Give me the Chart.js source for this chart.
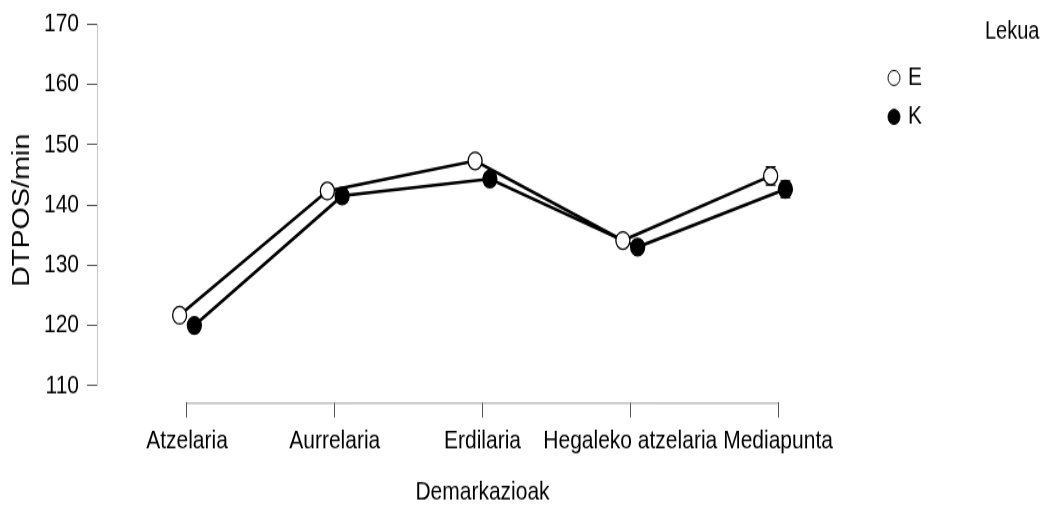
<!DOCTYPE html>
<html>
<head>
<meta charset="utf-8">
<script src="https://cdn.jsdelivr.net/npm/chart.js@4/dist/chart.umd.min.js"></script>
<style>
  html { overflow: hidden; background: #fff; }
  body { margin: 0; padding: 0; background: #fff; }
  #frame { width: 1040px; height: 507px; }
  /* the figure is drawn slightly compressed and stretched back to full height */
  #wrap { width: 1040px; height: 406px; transform: scaleY(1.2488); transform-origin: 0 0; }
  canvas { display: block; }
</style>
</head>
<body>
<div id="frame"><div id="wrap"><canvas id="c" width="1040" height="406"></canvas></div></div>
<script>
// Positions on the pitch
const categories = ['Atzelaria', 'Aurrelaria', 'Erdilaria', 'Hegaleko atzelaria', 'Mediapunta'];
// Group means (DTPOS/min) per location
const seriesE = [121.7, 142.3, 147.3, 134.1, 144.8];
const seriesK = [120.0, 141.5, 144.3, 133.0, 142.6];
// Standard errors
const errE = [0.7, 1.1, 0.8, 0.8, 1.5];
const errK = [0.7, 1.1, 0.8, 0.7, 1.4];
const seriesLabels = ['E', 'K'];
const yTicks = [110, 120, 130, 140, 150, 160, 170];
const yTitle = 'DTPOS/min';
const xTitle = 'Demarkazioak';
const legendTitle = 'Lekua';

const FONT = "'Liberation Sans', Arial, sans-serif";
const dodge = 0.05;

const toPoints = (vals, shift) => vals.map((v, i) => ({ x: i + 1 + shift, y: v }));
const errors = [errE, errK];

// Error bars behind the markers
const errorBars = {
  id: 'errorBars',
  beforeDatasetsDraw(chart) {
    const { ctx, scales: { x, y } } = chart;
    ctx.save();
    ctx.strokeStyle = '#000';
    ctx.lineWidth = 1.2;
    chart.data.datasets.forEach((ds, di) => {
      ds.data.forEach((p, i) => {
        const e = errors[di][i];
        const px = x.getPixelForValue(p.x);
        const y1 = y.getPixelForValue(p.y + e);
        const y2 = y.getPixelForValue(p.y - e);
        ctx.beginPath();
        ctx.moveTo(px, y1); ctx.lineTo(px, y2);
        ctx.moveTo(px - 5, y1); ctx.lineTo(px + 5, y1);
        ctx.moveTo(px - 5, y2); ctx.lineTo(px + 5, y2);
        ctx.stroke();
      });
    });
    ctx.restore();
  }
};

// Axis lines spanning only the tick range, plus the legend
const axesAndLegend = {
  id: 'axesAndLegend',
  afterDraw(chart) {
    const { ctx, scales: { x, y }, chartArea } = chart;
    ctx.save();
    ctx.lineWidth = 1;
    ctx.strokeStyle = '#c8c8c8';
    ctx.beginPath();
    ctx.moveTo(chartArea.left + 0.5, y.getPixelForValue(yTicks[0]));
    ctx.lineTo(chartArea.left + 0.5, y.getPixelForValue(yTicks[yTicks.length - 1]));
    ctx.stroke();
    ctx.strokeStyle = '#9a9a9a';
    ctx.beginPath();
    ctx.moveTo(x.getPixelForValue(1), chartArea.bottom + 0.5);
    ctx.lineTo(x.getPixelForValue(categories.length), chartArea.bottom + 0.5);
    ctx.stroke();

    // legend
    ctx.fillStyle = '#000';
    ctx.textBaseline = 'middle';
    ctx.textAlign = 'left';
    ctx.font = '20px ' + FONT;
    ctx.fillText(legendTitle, 985, 25.6);
    ctx.font = '21px ' + FONT;
    chart.data.datasets.forEach((ds, i) => {
      const cy = 62.4 + i * 31.2;
      ctx.beginPath();
      ctx.arc(894, cy, 6, 0, Math.PI * 2);
      ctx.fillStyle = ds.pointBackgroundColor;
      ctx.fill();
      ctx.strokeStyle = '#000';
      ctx.lineWidth = 1;
      ctx.stroke();
      ctx.fillStyle = '#000';
      ctx.fillText(ds.label, 908, cy);
    });
    ctx.restore();
  }
};

new Chart(document.getElementById('c'), {
  type: 'line',
  data: {
    datasets: [
      {
        label: seriesLabels[0],
        data: toPoints(seriesE, -dodge),
        borderColor: '#000', borderWidth: 2.6,
        pointRadius: 7, pointBorderWidth: 1.3,
        pointBackgroundColor: '#fff', pointBorderColor: '#000',
        clip: false
      },
      {
        label: seriesLabels[1],
        data: toPoints(seriesK, dodge),
        borderColor: '#000', borderWidth: 2.6,
        pointRadius: 7, pointBorderWidth: 1.3,
        pointBackgroundColor: '#000', pointBorderColor: '#000',
        clip: false
      }
    ]
  },
  options: {
    responsive: false,
    animation: false,
    layout: { padding: { top: 14.4, right: 172, left: 0, bottom: 0 } },
    plugins: { legend: { display: false }, tooltip: { enabled: false } },
    scales: {
      x: {
        type: 'linear',
        min: 1 - 0.609, max: categories.length + 0.609,
        afterBuildTicks(s) { s.ticks = categories.map((c, i) => ({ value: i + 1 })); },
        afterFit(s) { s.height = 83.6; s.paddingLeft = 0; s.paddingRight = 0; },
        grid: { drawOnChartArea: false, drawTicks: true, tickLength: 12, color: '#555' },
        border: { display: false },
        ticks: {
          padding: 5.8, color: '#000', maxRotation: 0, autoSkip: false,
          font: { family: FONT, size: 21 },
          callback: (v) => categories[v - 1]
        },
        title: {
          display: true, text: xTitle, color: '#000',
          font: { family: FONT, size: 21, lineHeight: 1 },
          padding: { top: 0, bottom: 1.1 }
        }
      },
      y: {
        type: 'linear',
        min: 107.2, max: 171,
        afterBuildTicks(s) { s.ticks = yTicks.map(v => ({ value: v })); },
        afterFit(s) { s.width = 97; s.paddingTop = 0; s.paddingBottom = 0; },
        grid: { drawOnChartArea: false, drawTicks: true, tickLength: 10, color: '#555' },
        border: { display: false },
        ticks: { padding: 8, color: '#000', font: { family: FONT, size: 21 } },
        title: {
          display: true, text: yTitle, color: '#000',
          font: { family: FONT, size: 23 },
          padding: { top: 9, bottom: 0 }
        }
      }
    }
  },
  plugins: [errorBars, axesAndLegend]
});
</script>
</body>
</html>
